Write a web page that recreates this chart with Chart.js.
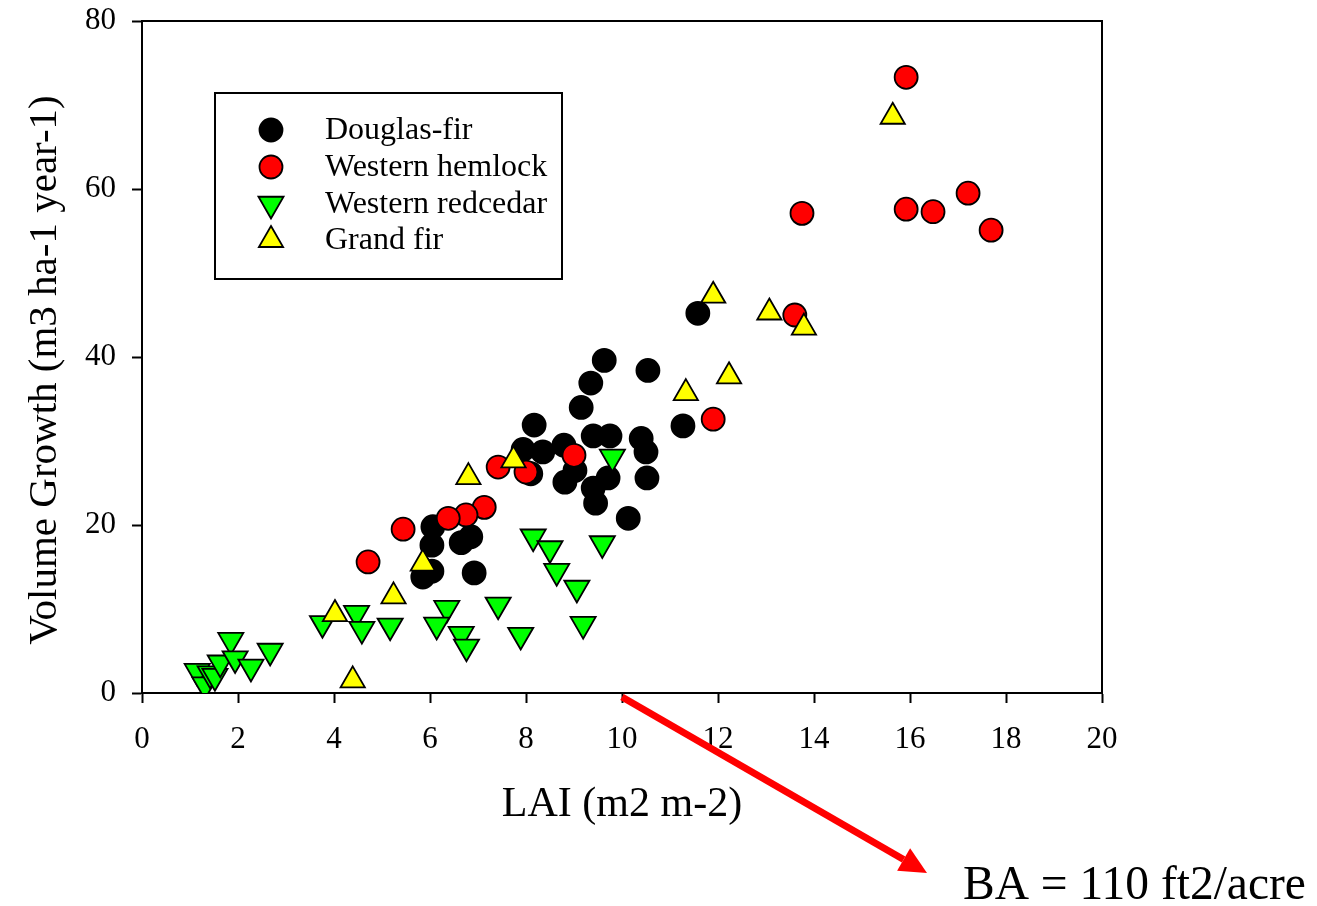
<!DOCTYPE html>
<html>
<head>
<meta charset="utf-8">
<script src="https://cdn.jsdelivr.net/npm/chart.js@4/dist/chart.umd.min.js"></script>
<style>
  html, body { margin: 0; padding: 0; background: #fff; }
  #wrap { width: 1317px; height: 906px; }
</style>
</head>
<body>
<div id="wrap"><canvas id="lai" width="1317" height="906"></canvas></div>
<script>
const speciesNames = ['Douglas-fir', 'Western hemlock', 'Western redcedar', 'Grand fir']

// LAI (m2 m-2) and volume growth (m3 ha-1 year-1) per plot
const douglasLai = [11.58, 9.63, 10.54, 9.35, 9.15, 8.17, 11.27, 9.40, 9.75, 10.40, 10.50, 7.94, 8.35, 8.79, 8.10, 9.02, 8.81, 9.71, 9.40, 9.45, 10.52, 10.13, 6.06, 6.04, 6.65, 6.85, 6.04, 5.85, 6.92]
const douglasGrowth = [45.2, 39.6, 38.4, 36.9, 34.0, 31.9, 31.8, 30.6, 30.6, 30.3, 28.7, 29.0, 28.7, 29.5, 26.1, 26.5, 25.1, 25.6, 24.4, 22.6, 25.6, 20.8, 19.8, 17.6, 17.9, 18.6, 14.5, 13.8, 14.3]

const hemlockLai = [15.92, 13.75, 15.92, 16.48, 17.21, 17.69, 13.60, 11.90, 9.00, 7.42, 8.00, 7.13, 6.75, 6.38, 5.44, 4.71]
const hemlockGrowth = [73.3, 57.1, 57.6, 57.3, 59.5, 55.1, 45.0, 32.6, 28.3, 26.9, 26.3, 22.1, 21.2, 20.8, 19.5, 15.6]

const redcedarLai = [1.15, 1.31, 1.42, 1.52, 1.63, 1.85, 1.94, 2.27, 2.67, 3.76, 4.47, 4.58, 5.17, 6.35, 6.14, 6.65, 6.76, 7.42, 7.89, 8.15, 8.50, 8.64, 9.06, 9.19, 9.59, 9.80]
const redcedarGrowth = [2.6, 1.0, 2.3, 2.0, 3.6, 6.3, 4.1, 3.1, 5.0, 8.3, 9.5, 7.6, 8.0, 10.1, 8.1, 7.0, 5.5, 10.5, 6.9, 18.6, 17.2, 14.5, 12.5, 8.2, 17.8, 28.1]

const grandFirLai = [15.64, 11.90, 13.07, 13.79, 12.23, 11.33, 7.74, 6.80, 5.85, 5.24, 4.02, 4.39]
const grandFirGrowth = [68.6, 47.3, 45.3, 43.5, 37.7, 35.7, 27.7, 25.7, 15.4, 11.5, 9.4, 1.5]

const xTicks = [0, 2, 4, 6, 8, 10, 12, 14, 16, 18, 20]
const yTicks = [0, 20, 40, 60, 80]

const serif = 'Liberation Serif, Times New Roman, serif'

function points(xs, ys) {
  return xs.map((x, i) => ({ x: x, y: ys[i] }))
}

const markers = [
  { style: 'circle', fill: '#000000', radius: 11.5, rotation: 0 },
  { style: 'circle', fill: '#ff0000', radius: 11.5, rotation: 0 },
  { style: 'triangle', fill: '#00ff00', radius: 14.5, rotation: 180 },
  { style: 'triangle', fill: '#ffff00', radius: 14, rotation: 0 }
]

const series = [
  points(douglasLai, douglasGrowth),
  points(hemlockLai, hemlockGrowth),
  points(redcedarLai, redcedarGrowth),
  points(grandFirLai, grandFirGrowth)
]

const datasets = series.map((data, i) => ({
  label: speciesNames[i],
  data: data,
  pointStyle: markers[i].style,
  pointRotation: markers[i].rotation,
  pointRadius: markers[i].radius,
  pointHoverRadius: markers[i].radius,
  backgroundColor: markers[i].fill,
  borderColor: '#000000',
  borderWidth: 1.8,
  order: 4 - i
}))

function drawMarker(ctx, m, x, y) {
  ctx.save()
  ctx.fillStyle = m.fill
  ctx.strokeStyle = '#000'
  ctx.lineWidth = 1.8
  ctx.beginPath()
  if (m.style === 'circle') {
    ctx.arc(x, y, m.radius, 0, Math.PI * 2)
  } else {
    let rad = m.rotation * Math.PI / 180
    for (let k = 0; k < 3; k++) {
      const px = x + Math.sin(rad) * m.radius
      const py = y - Math.cos(rad) * m.radius
      if (k === 0) ctx.moveTo(px, py)
      else ctx.lineTo(px, py)
      rad += Math.PI * 2 / 3
    }
    ctx.closePath()
  }
  ctx.fill()
  ctx.stroke()
  ctx.restore()
}

// top and right sides of the plot frame
const framePlugin = {
  id: 'frame',
  beforeDatasetsDraw(chart) {
    const { ctx, chartArea: a } = chart
    ctx.save()
    ctx.strokeStyle = '#000'
    ctx.lineWidth = 2
    ctx.beginPath()
    ctx.moveTo(a.left, a.top)
    ctx.lineTo(a.right, a.top)
    ctx.lineTo(a.right, a.bottom)
    ctx.stroke()
    ctx.restore()
  }
}

// boxed legend inside the plot
const legendPlugin = {
  id: 'boxLegend',
  afterDatasetsDraw(chart) {
    const ctx = chart.ctx
    ctx.save()
    ctx.fillStyle = '#fff'
    ctx.fillRect(215, 93, 347, 186)
    ctx.strokeStyle = '#000'
    ctx.lineWidth = 2
    ctx.strokeRect(215, 93, 347, 186)
    const rows = [130, 167, 204, 240]
    ctx.font = '32px ' + serif
    ctx.textAlign = 'left'
    ctx.textBaseline = 'middle'
    speciesNames.forEach((name, i) => {
      drawMarker(ctx, markers[i], 271, rows[i])
      ctx.fillStyle = '#000'
      ctx.fillText(name, 325, rows[i] + 1)
    })
    ctx.restore()
  }
}

// axis titles, arrow and basal area note
const textPlugin = {
  id: 'annotations',
  afterDraw(chart) {
    const ctx = chart.ctx
    ctx.save()
    ctx.fillStyle = '#000'
    ctx.font = '42px ' + serif
    ctx.textAlign = 'center'
    ctx.textBaseline = 'alphabetic'
    ctx.fillText('LAI (m2 m-2)', 622, 816)

    ctx.translate(56, 370)
    ctx.rotate(-Math.PI / 2)
    ctx.font = '41px ' + serif
    ctx.fillText('Volume Growth (m3 ha-1 year-1)', 0, 0)
    ctx.restore()

    ctx.save()
    const x0 = 622, y0 = 697, x1 = 927, y1 = 873
    const ang = Math.atan2(y1 - y0, x1 - x0)
    const headLen = 27, headHalf = 13
    const bx = x1 - Math.cos(ang) * headLen
    const by = y1 - Math.sin(ang) * headLen
    ctx.strokeStyle = '#ff0000'
    ctx.fillStyle = '#ff0000'
    ctx.lineWidth = 7
    ctx.beginPath()
    ctx.moveTo(x0, y0)
    ctx.lineTo(bx, by)
    ctx.stroke()
    ctx.beginPath()
    ctx.moveTo(x1, y1)
    ctx.lineTo(bx + Math.sin(ang) * headHalf, by - Math.cos(ang) * headHalf)
    ctx.lineTo(bx - Math.sin(ang) * headHalf, by + Math.cos(ang) * headHalf)
    ctx.closePath()
    ctx.fill()

    ctx.fillStyle = '#000'
    ctx.font = '47.5px ' + serif
    ctx.textAlign = 'left'
    ctx.fillText('BA = 110 ft2/acre', 963, 899)
    ctx.restore()
  }
}

new Chart(document.getElementById('lai'), {
  type: 'scatter',
  data: { datasets: datasets },
  plugins: [framePlugin, legendPlugin, textPlugin],
  options: {
    responsive: false,
    devicePixelRatio: 1,
    animation: false,
    layout: { padding: { top: 21, right: 215, bottom: 0, left: 0 } },
    plugins: {
      legend: { display: false },
      tooltip: { enabled: false }
    },
    scales: {
      x: {
        type: 'linear',
        position: 'bottom',
        min: 0,
        max: 20,
        afterBuildTicks(scale) { scale.ticks = xTicks.map(v => ({ value: v })) },
        afterFit(scale) {
          scale.height = 213
          scale.paddingLeft = 0
          scale.paddingRight = 0
        },
        ticks: { color: '#000', font: { family: serif, size: 31 }, padding: 18, maxRotation: 0 },
        grid: { drawOnChartArea: false, tickLength: 10, tickColor: '#000', tickWidth: 2 },
        border: { color: '#000', width: 2 }
      },
      y: {
        type: 'linear',
        position: 'left',
        min: 0,
        max: 80,
        afterBuildTicks(scale) { scale.ticks = yTicks.map(v => ({ value: v })) },
        afterFit(scale) {
          scale.width = 142
          scale.paddingTop = 0
          scale.paddingBottom = 0
        },
        ticks: { color: '#000', font: { family: serif, size: 31 }, padding: 16 },
        grid: { drawOnChartArea: false, tickLength: 10, tickColor: '#000', tickWidth: 2 },
        border: { color: '#000', width: 2 }
      }
    }
  }
})
</script>
</body>
</html>
